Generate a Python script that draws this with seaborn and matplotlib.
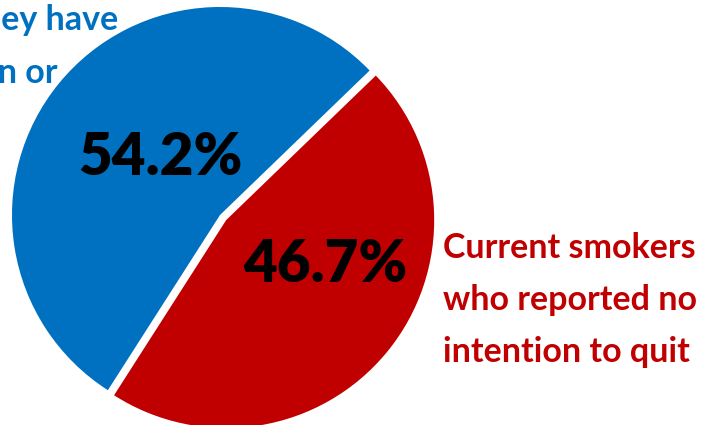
import matplotlib
matplotlib.use("Agg")
import matplotlib.pyplot as plt
import seaborn as sns

# Shares of current smokers by intention to quit
segments = ["Intend to quit", "No intention to quit"]
shares = [54.2, 46.7]
colors = ["#0070C0", "#C00000"]

# Category labels (one entry per line)
left_label_lines = ["who reported they have", "an intention or"]
right_label_lines = ["Current smokers", "who reported no", "intention to quit"]

sns.set_theme(style="white")
plt.rcParams["font.family"] = ["Lato", "DejaVu Sans"]

W, H = 704, 425
fig = plt.figure(figsize=(W / 100, H / 100), dpi=100)
ax = fig.add_axes([0, 0, 1, 1])

cx, cy, r = 220, H - 215, 208
wedges, _ = ax.pie(
    shares,
    colors=colors,
    startangle=44,
    counterclock=True,
    explode=[0, 8],  # offset in data units (pixels here)
    center=(cx, cy),
    radius=r,
    wedgeprops=dict(linewidth=0),
)
ax.set_xlim(0, W)
ax.set_ylim(0, H)
ax.set_aspect("equal")
ax.set_axis_off()

# Percentage labels inside the slices
pct_pos = [(160, H - 157), (325, H - 265)]
for v, (x, y) in zip(shares, pct_pos):
    ax.text(x, y, f"{v:.1f}%", ha="center", va="center", fontsize=42,
            fontweight="heavy", color="black")

# Left category label (runs off the left edge)
left_ends = [(118, H - 30), (58, H - 83)]
for line, (x, y) in zip(left_label_lines, left_ends):
    ax.text(x, y, line, ha="right", va="baseline", fontsize=24.5,
            fontweight="bold", color=colors[0])

# Right category label
for i, line in enumerate(right_label_lines):
    ax.text(443, H - (258 + 52 * i), line, ha="left", va="baseline",
            fontsize=24.5, fontweight="bold", color=colors[1])

fig.savefig("out.png", dpi=100)
